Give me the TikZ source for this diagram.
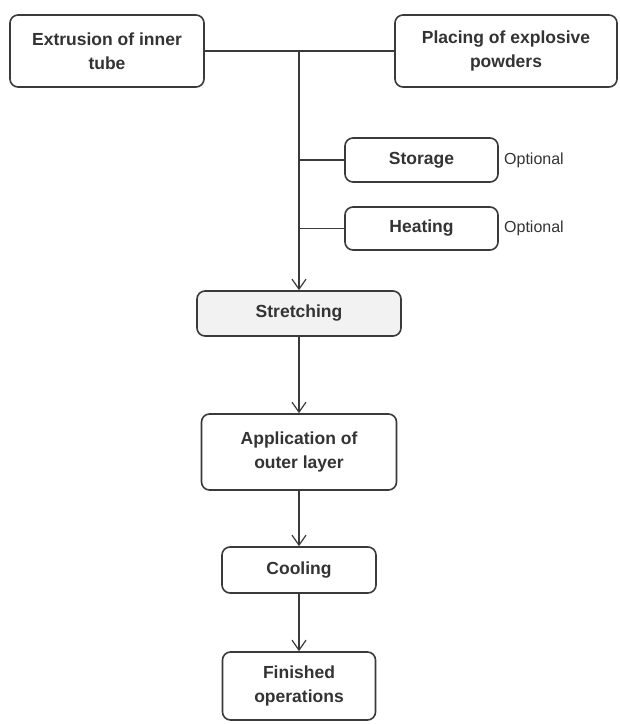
\documentclass[tikz,border=0pt]{standalone}
\usepackage{fontspec}
\setmainfont{Liberation Sans}
\usetikzlibrary{arrows.meta}
\definecolor{ink}{HTML}{333333}
\definecolor{edge}{HTML}{3A3A3A}
\definecolor{lightfill}{HTML}{F2F2F2}
\tikzset{
  procbox/.style={draw=edge, line width=1.6pt, rounded corners=8pt, fill=white,
    text=ink, align=center, inner sep=0pt,
    font=\bfseries\fontsize{17.5}{24}\selectfont},
  link/.style={draw=edge, line width=1.2pt},
  flow/.style={link, -{Straight Barb[length=10pt,width=14pt,line width=1.2pt]}},
  note/.style={text=ink, anchor=west, inner sep=0pt, font=\fontsize{16}{18}\selectfont}
}
\begin{document}
\begin{tikzpicture}[x=1pt,y=-1pt]
\useasboundingbox[fill=white] (0,0) rectangle (620,724);
\node[procbox, minimum width=194pt, minimum height=72pt] (ext) at (107,51) {Extrusion of inner\\tube};
\node[procbox, minimum width=222pt, minimum height=72pt] (plc) at (506,51) {Placing of explosive\\powders};
\node[procbox, minimum width=153pt, minimum height=44pt] (sto) at (421.5,160) {Storage};
\node[procbox, minimum width=153pt, minimum height=43pt] (hea) at (421.5,228.5) {Heating};
\node[procbox, fill=lightfill, minimum width=204pt, minimum height=45pt] (str) at (299,313.5) {Stretching};
\node[procbox, minimum width=195pt, minimum height=76pt] (app) at (299,452) {Application of\\outer layer};
\node[procbox, minimum width=154pt, minimum height=46pt] (coo) at (299,570) {Cooling};
\node[procbox, minimum width=153pt, minimum height=68pt] (fin) at (299,686) {Finished\\operations};
\node[note] (on1) at (504,160) {Optional};
\node[note] (on2) at (504,228.5) {Optional};
\coordinate (jn) at (299,51);
\coordinate (bs) at (299,160);
\coordinate (bh) at (299,228.5);
\draw[link] (ext.east) -- (plc.west);
\draw[flow] (jn) -- (str.north);
\draw[link] (bs) -- (sto.west);
\draw[link] (bh) -- (hea.west);
\draw[flow] (str.south) -- (app.north);
\draw[flow] (app.south) -- (coo.north);
\draw[flow] (coo.south) -- (fin.north);
\end{tikzpicture}
\end{document}
